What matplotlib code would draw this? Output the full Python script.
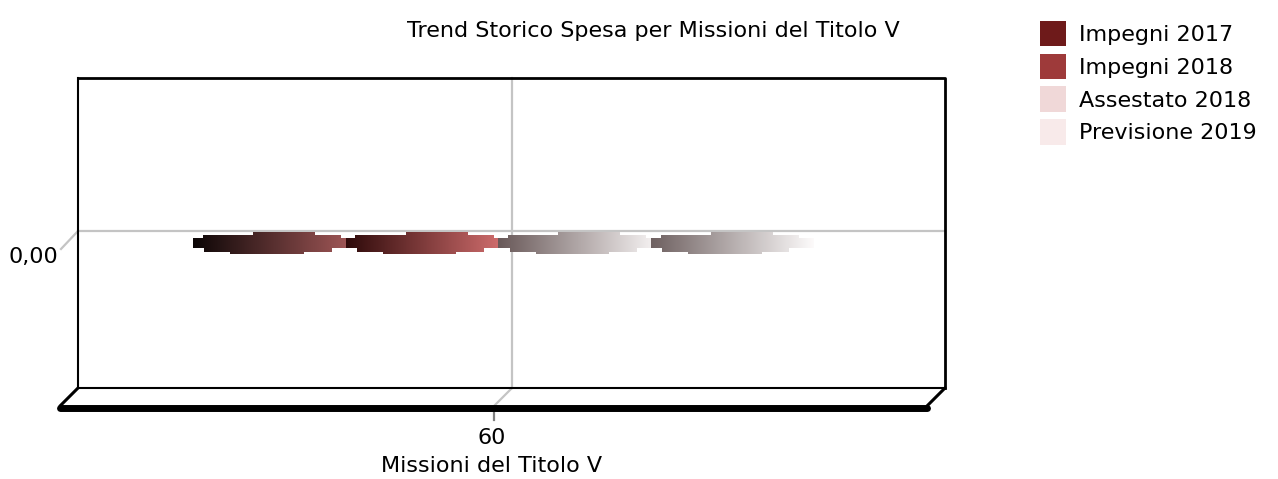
import numpy as np
import matplotlib; matplotlib.use("Agg")
import matplotlib.pyplot as plt
from matplotlib.colors import LinearSegmentedColormap
from matplotlib.patches import Polygon, Patch

plt.rcParams["font.family"] = ["DejaVu Sans"]

TITLE = "Trend Storico Spesa per Missioni del Titolo V"
categories = ["60"]
series = ["Impegni 2017", "Impegni 2018", "Assestato 2018", "Previsione 2019"]
values = [0.0, 0.0, 0.0, 0.0]                      # one value per series, category "60"
ytick_labels = ["0,00"]
xlabel = "Missioni del Titolo V"

legend_cols = ["#6e1a1a", "#9e3a3a", "#f0d8d8", "#f8eaea"]
# dark -> light shading of each slab
shades = [("#0c0606", "#a65a5a"), ("#2e0a0a", "#d87272"),
          ("#685858", "#fbf8f8"), ("#6e6060", "#fdfbfb")]

W, H = 1278, 479
fig = plt.figure(figsize=(W / 100, H / 100), dpi=100)

# ---- frame of the pseudo-3D box, drawn in pixel coords -----------------------
bg = fig.add_axes([0, 0, 1, 1]); bg.set_xlim(0, W); bg.set_ylim(H, 0); bg.axis("off")
grey = "#c4c4c4"
bg.plot([78, 945], [231, 231], color=grey, lw=1.6)
bg.plot([78, 61], [231, 249], color=grey, lw=1.6)
bg.plot([512, 512], [78, 388], color=grey, lw=1.6)
bg.plot([512, 494], [388, 406], color=grey, lw=1.6)
bg.plot([494, 494], [410, 420], color="#808080", lw=1.6)
bg.plot([78, 945, 945], [78, 78, 388], color="black", lw=2.0)
bg.plot([78, 78, 945], [78, 388, 388], color="black", lw=1.5)
bg.plot([78, 60], [388, 406], color="black", lw=2.2, solid_capstyle="round")
bg.plot([945, 927], [388, 406], color="black", lw=2.2, solid_capstyle="round")
bg.plot([60, 927], [408, 408], color="black", lw=5, solid_capstyle="round")

# ---- data axes at mid depth --------------------------------------------------
ax = fig.add_axes([69 / W, (H - 398) / H, 867 / W, 310 / H])
ax.axis("off")
n = len(series)
width = 0.176
offsets = (np.arange(n) - (n - 1) / 2) * width
t = 0.074                                           # half thickness of a flat slab
# stepped outline of the slab: (fraction of width, fraction of half-thickness)
outline = [(0.23, -1), (0.23, -9 / 11), (0.07, -9 / 11), (0.07, -5 / 11), (0, -5 / 11),
           (0, 5 / 11), (0.06, 5 / 11), (0.06, 8 / 11), (0.37, 8 / 11), (0.37, 1),
           (0.75, 1), (0.75, 8 / 11), (0.91, 8 / 11), (0.91, 5 / 11), (1, 5 / 11),
           (1, -5 / 11), (0.85, -5 / 11), (0.85, -9 / 11), (0.68, -9 / 11), (0.68, -1)]
grad = np.linspace(0, 1, 256)[None, :]
for i, (v, (c0, c1)) in enumerate(zip(values, shades)):
    x0 = 0 + offsets[i] - width / 2 - 0.005
    x1 = x0 + width + 0.012
    cmap = LinearSegmentedColormap.from_list(f"s{i}", [c0, c1])
    im = ax.imshow(grad, cmap=cmap, aspect="auto", extent=[x0, x1, v - t, v + t],
                   interpolation="bilinear", zorder=3 + i)
    poly = Polygon([(x0 + fx * (x1 - x0), v + fy * t) for fx, fy in outline],
                   closed=True, transform=ax.transData, facecolor="none", edgecolor="none")
    ax.add_patch(poly)
    im.set_clip_path(poly)
ax.set_xlim(-0.5, 0.5)
ax.set_ylim(-1, 1)

# ---- texts -------------------------------------------------------------------
fs = 16
bg.text(58, 257, ytick_labels[0], ha="right", va="center", fontsize=fs)
bg.text(492, 438, categories[0], ha="center", va="center", fontsize=fs)
bg.text(492, 466, xlabel, ha="center", va="center", fontsize=fs)
bg.text(653, 31, TITLE, ha="center", va="center", fontsize=fs)

handles = [Patch(facecolor=c, edgecolor="none") for c in legend_cols]
fig.legend(handles, series, loc="upper left", bbox_to_anchor=(1022 / W, 1 - 3 / H),
           frameon=False, fontsize=fs, handlelength=1.17, handleheight=1.4,
           handletextpad=0.6, labelspacing=0.32, borderpad=0.3)

fig.savefig("out.png", dpi=100)
